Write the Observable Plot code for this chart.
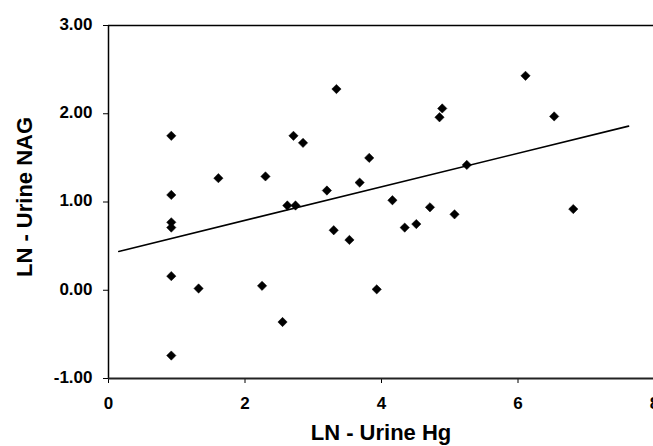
<!DOCTYPE html>
<html>
<head>
<meta charset="utf-8">
<script src="https://cdn.jsdelivr.net/npm/d3@7"></script>
<script src="https://cdn.jsdelivr.net/npm/@observablehq/plot@0.6"></script>
<style>
  html, body { margin: 0; padding: 0; background: #fff; overflow: hidden; }
  #chart svg { overflow: visible; max-width: none; }
</style>
</head>
<body>
<div id="chart"></div>
<script>
// LN - Urine Hg (x) vs LN - Urine NAG (y)
const urineHg = [0.92, 0.92, 0.92, 0.92, 0.92, 0.92, 1.32, 1.61, 2.25, 2.30, 2.55, 2.62, 2.74, 2.71, 2.85, 3.20,
                 3.34, 3.30, 3.53, 3.68, 3.82, 3.93, 4.16, 4.34, 4.51, 4.71, 4.85, 4.89, 5.07, 5.25, 6.11, 6.53, 6.81];
const urineNAG = [1.75, 1.08, 0.77, 0.71, 0.16, -0.74, 0.02, 1.27, 0.05, 1.29, -0.36, 0.96, 0.96, 1.75, 1.67, 1.13,
                  2.28, 0.68, 0.57, 1.22, 1.50, 0.01, 1.02, 0.71, 0.75, 0.94, 1.96, 2.06, 0.86, 1.42, 2.43, 1.97, 0.92];
// fitted regression line endpoints as drawn
const fitX = [0.15, 7.62];
const fitY = [0.44, 1.86];
const xTicks = [0, 2, 4, 6, 8];
const yTicks = [-1, 0, 1, 2, 3];
const xTickLabels = ["0", "2", "4", "6", "8"];
const yTickLabels = ["-1.00", "0.00", "1.00", "2.00", "3.00"];
const xTitle = "LN - Urine Hg";
const yTitle = "LN - Urine NAG";

const points = urineHg.map((x, i) => ({x, y: urineNAG[i]}));
const fit = fitX.map((x, i) => ({x, y: fitY[i]}));

const font = "'Liberation Sans', Arial, sans-serif";

const chart = Plot.plot({
  width: 653,
  height: 446,
  marginLeft: 108,
  marginTop: 25,
  marginBottom: 68,
  marginRight: 0,
  style: {fontFamily: font, color: "#000", background: "#fff"},
  x: {domain: [0, 8], range: [108, 654]},
  y: {domain: [-1, 3], range: [378, 25]},
  marks: [
    Plot.axisY(yTicks, {tickSize: 5, tickFormat: () => "", label: null, stroke: "#000"}),
    Plot.axisX(xTicks, {tickSize: 5, tickFormat: () => "", label: null, stroke: "#000"}),
    Plot.text(yTicks, {x: 0, y: d => d, text: (d, i) => yTickLabels[i], textAnchor: "end", dx: -16, dy: -1,
      fontSize: 17, fontWeight: "bold", fill: "#000"}),
    Plot.text(xTicks, {x: d => d, y: -1, text: (d, i) => xTickLabels[i], dy: 25.5,
      fontSize: 17, fontWeight: "bold", fill: "#000"}),
    Plot.ruleY([3], {stroke: "#000", strokeWidth: 1.5}),
    Plot.ruleX([0], {stroke: "#000", strokeWidth: 1.5}),
    Plot.ruleY([-1], {stroke: "#222", strokeWidth: 2}),
    Plot.line(fit, {x: "x", y: "y", stroke: "#000", strokeWidth: 1.6}),
    Plot.dot(points, {x: "x", y: "y", symbol: "diamond2", r: 4.2, fill: "#000", stroke: "#000", strokeWidth: 0.5})
  ]
});

const svg = d3.select(chart);
svg.append("text")
  .attr("x", 381).attr("y", 440)
  .attr("text-anchor", "middle")
  .style("font-family", font).style("font-weight", "bold").style("font-size", "22px")
  .attr("fill", "#000")
  .text(xTitle);
svg.append("text")
  .attr("transform", "translate(32,197) rotate(-90)")
  .attr("text-anchor", "middle")
  .style("font-family", font).style("font-weight", "bold").style("font-size", "22px")
  .attr("fill", "#000")
  .text(yTitle);

document.getElementById("chart").appendChild(chart);
</script>
</body>
</html>
